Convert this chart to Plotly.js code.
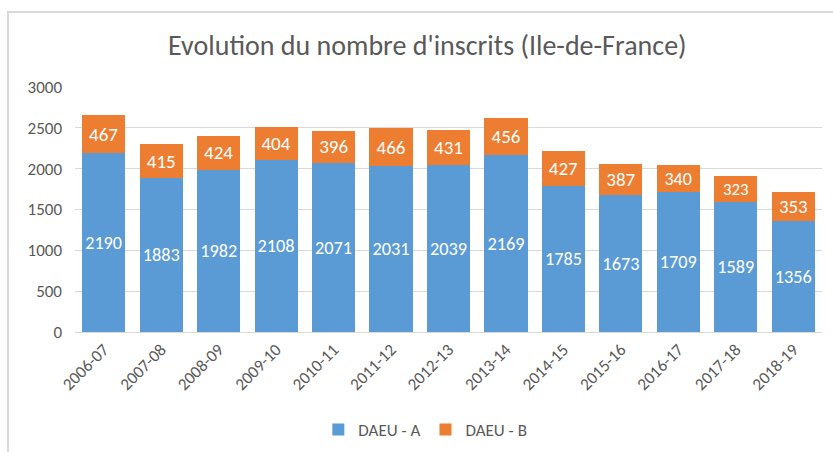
<!DOCTYPE html>
<html><head><meta charset="utf-8">
<script src="https://cdn.plot.ly/plotly-3.0.1.min.js"></script>
<style>
body{margin:0;padding:0;background:#fff;}
#wrap{position:relative;width:833px;height:452px;overflow:hidden;}
#chart{width:833px;height:452px;}
#frame{position:absolute;left:7px;top:11px;width:840px;height:460px;border-top:2px solid #d9d9d9;border-left:2px solid #d9d9d9;pointer-events:none;}
</style></head>
<body><div id="wrap"><div id="chart"></div><div id="frame"></div></div>
<script>
const categories = ["2006-07","2007-08","2008-09","2009-10","2010-11","2011-12","2012-13","2013-14","2014-15","2015-16","2016-17","2017-18","2018-19"];
const daeuA = [2190,1883,1982,2108,2071,2031,2039,2169,1785,1673,1709,1589,1356];
const daeuB = [467,415,424,404,396,466,431,456,427,387,340,323,353];
const yTicks = [0,500,1000,1500,2000,2500,3000];
const FONT = "Carlito, 'Open Sans', sans-serif";
const traces = [
  {type:'bar', name:'DAEU - A', x:categories, y:daeuA, text:daeuA.map(String),
   textposition:'inside', insidetextanchor:'middle', textangle:0,
   textfont:{color:'#ffffff', size:19, family:FONT},
   marker:{color:'#5B9BD5'}, hoverinfo:'none'},
  {type:'bar', name:'DAEU - B', x:categories, y:daeuB, text:daeuB.map(String),
   textposition:'inside', insidetextanchor:'middle', textangle:0,
   textfont:{color:'#ffffff', size:19, family:FONT},
   marker:{color:'#ED7D31'}, hoverinfo:'none'}
];
const layout = {
  width:833, height:452, barmode:'stack', bargap:0.25,
  margin:{l:75, r:11, t:87, b:120, autoexpand:false},
  paper_bgcolor:'#ffffff', plot_bgcolor:'#ffffff',
  font:{family:FONT, color:'#595959', size:17},
  title:{text:"Evolution du nombre d'inscrits (Ile-de-France)", x:0.513, xanchor:'center', y:0.9, yanchor:'middle', font:{size:28, color:'#595959', family:FONT, weight:300}},
  xaxis:{type:'category', automargin:false, tickangle:-45, showgrid:false, showline:true, linecolor:'#d9d9d9', linewidth:1, ticks:'', tickfont:{size:17, color:'#595959'}},
  yaxis:{range:[0,3000], automargin:false, tickvals:yTicks, showgrid:true, gridcolor:'#d9d9d9', gridwidth:1, zeroline:false, showline:false, ticks:'', ticklen:0, ticklabelstandoff:12, tickfont:{size:17, color:'#595959'}},
  legend:{orientation:'h', x:0.469, xanchor:'center', yref:'container', y:0.049, yanchor:'middle', font:{size:17, color:'#595959'}, traceorder:'normal', itemwidth:30},
  showlegend:true
};
Plotly.newPlot('chart', traces, layout, {displayModeBar:false, staticPlot:true});
</script></body></html>
